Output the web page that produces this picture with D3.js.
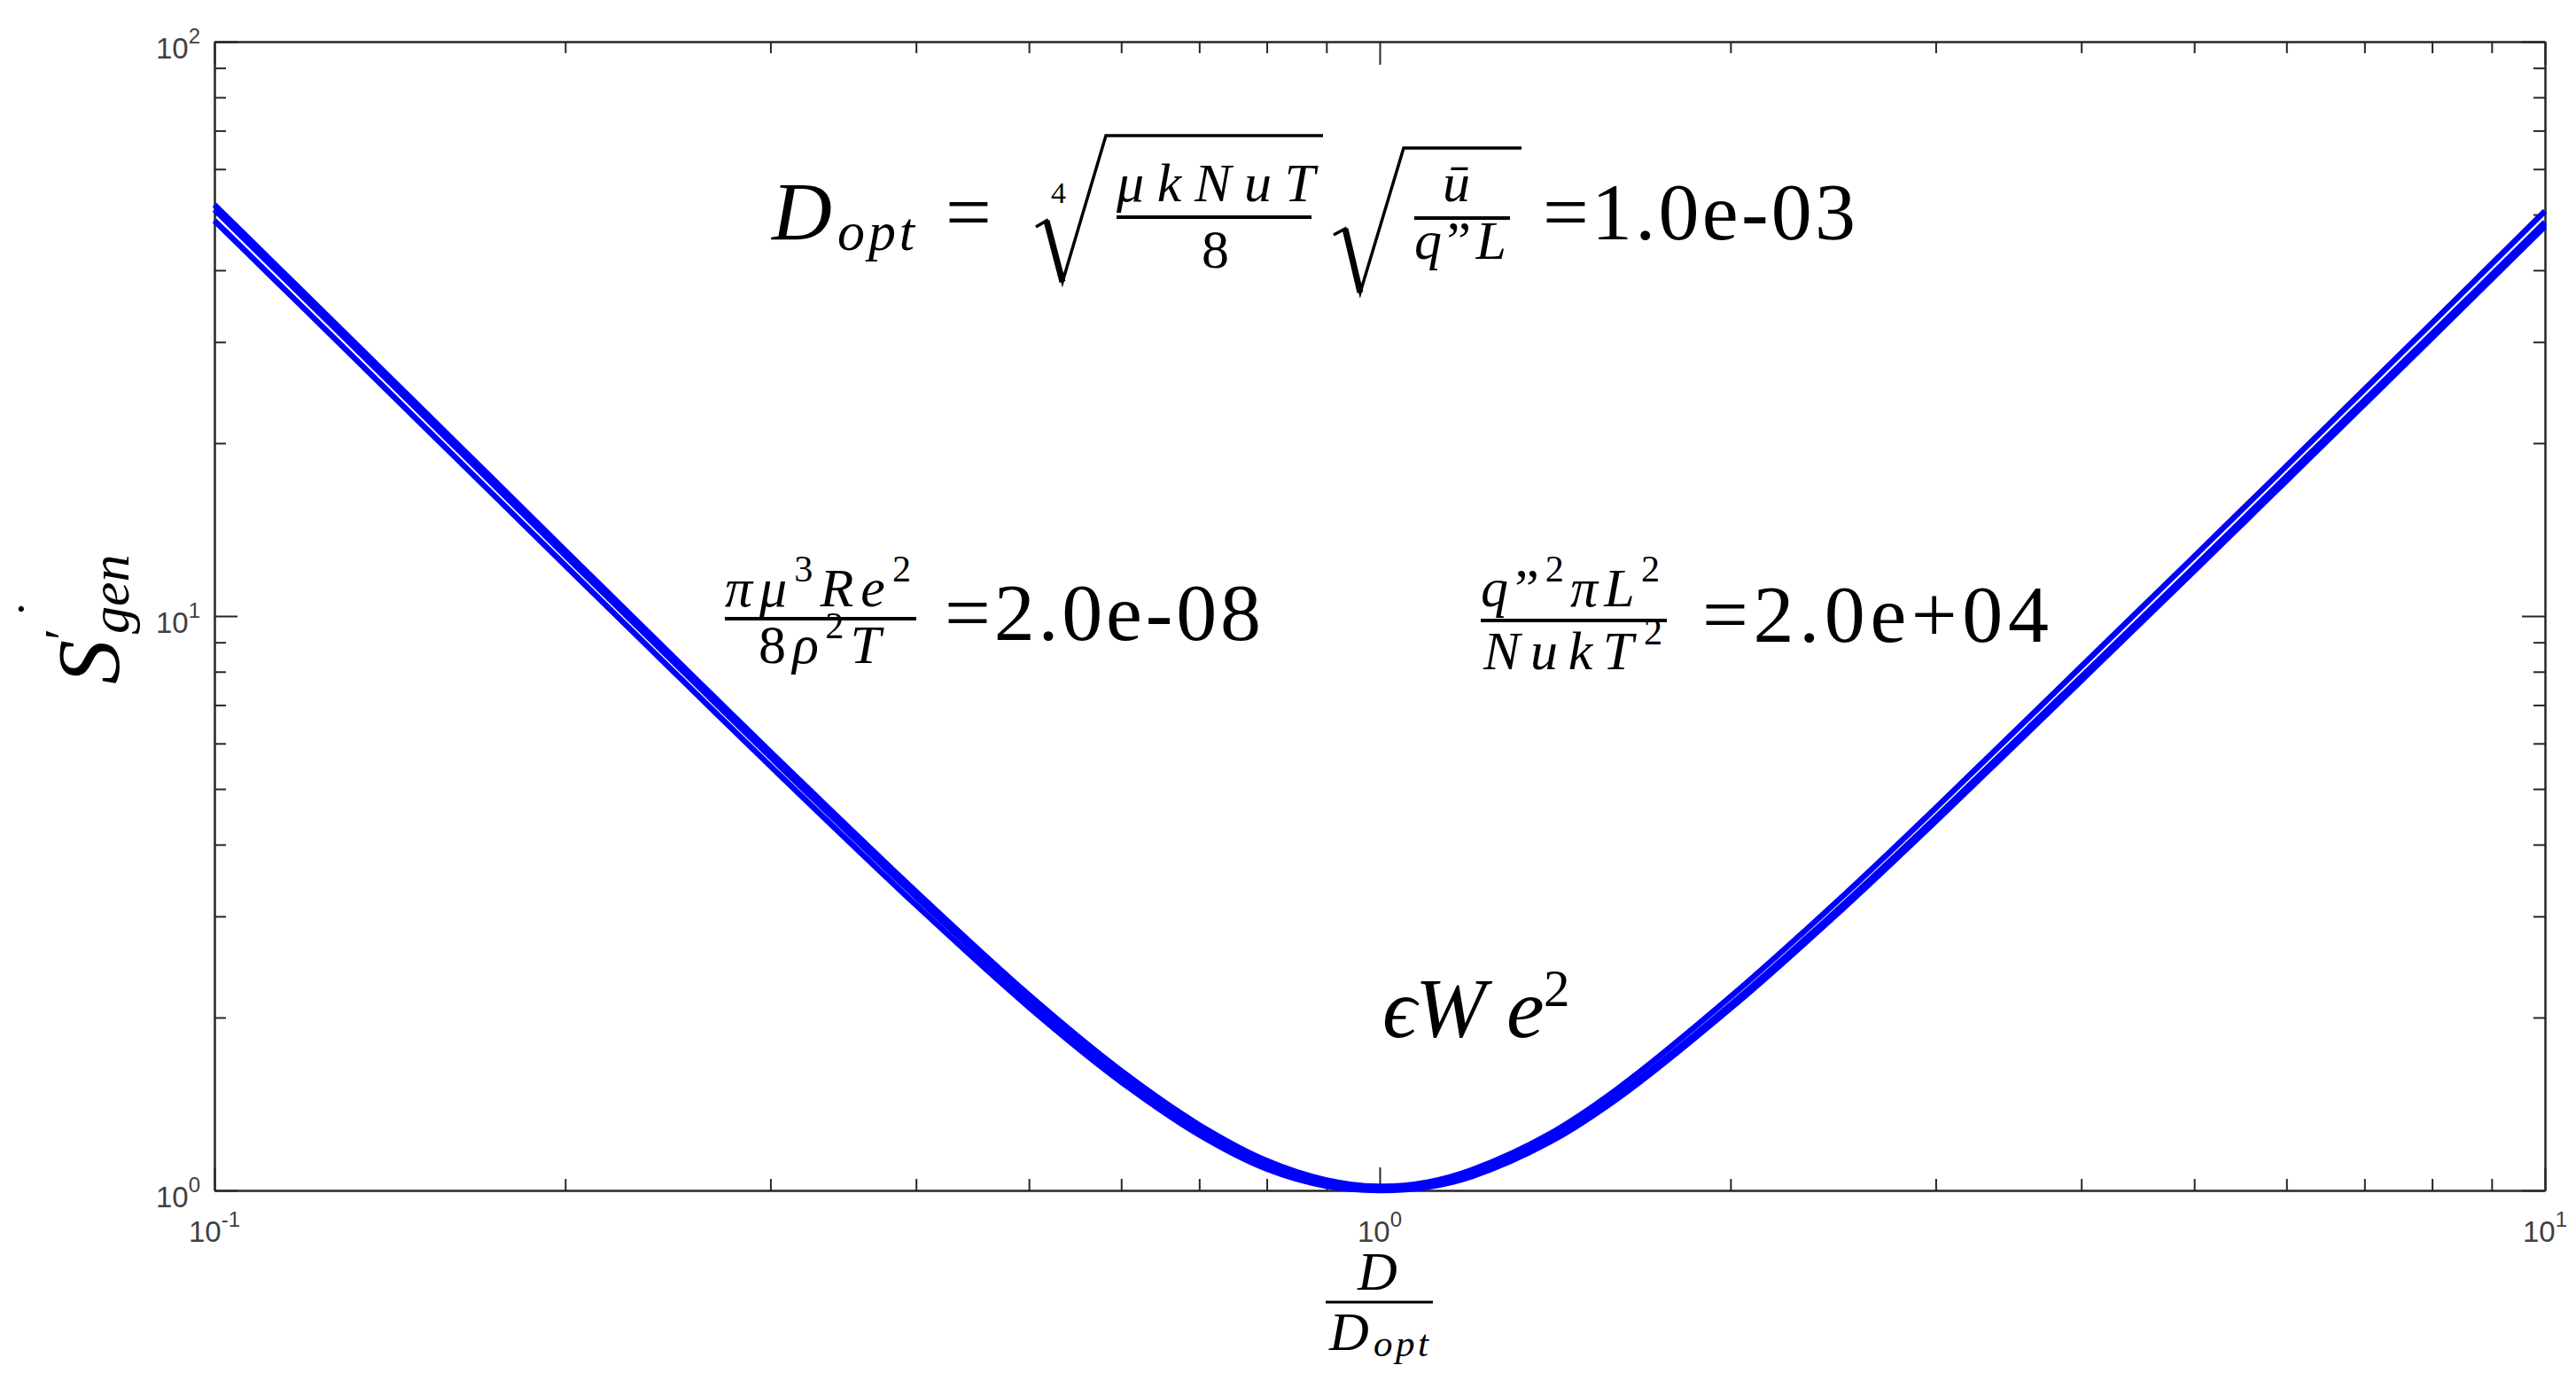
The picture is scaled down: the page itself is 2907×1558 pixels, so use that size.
<!DOCTYPE html>
<html>
<head>
<meta charset="utf-8">
<script src="https://cdn.jsdelivr.net/npm/d3@7"></script>
<style>
  body { margin: 0; background: #fff; }
  svg { display: block; }
  .axis path, .axis line { stroke: #262626; stroke-width: 2; fill: none; }
  .tick-label { font-family: "Liberation Sans", Arial, sans-serif; fill: #404040; }
  .math { font-family: "Liberation Serif", "Times New Roman", serif; fill: #000; }
</style>
</head>
<body>
<div id="chart"></div>
<script>
// D/Dopt sample positions and the three Sgen curves
const ratio = [0.1, 0.12, 0.15, 0.2, 0.25, 0.3, 0.4, 0.5, 0.6, 0.7, 0.8, 0.9, 1.0,
               1.1, 1.2, 1.4, 1.6, 2, 2.5, 3, 4, 5, 6, 8, 10];
const sgenUpper = [52.0, 36.16, 23.14, 13.01, 8.33, 5.80, 3.313, 2.189, 1.615, 1.30, 1.126, 1.042, 1.016,
                   1.034, 1.086, 1.255, 1.503, 2.173, 3.261, 4.631, 8.168, 12.70, 18.25, 32.39, 50.7];
const sgenMid = [51.0, 35.44, 22.69, 12.75, 8.17, 5.683, 3.244, 2.145, 1.582, 1.274, 1.105, 1.028, 1.008,
                 1.023, 1.069, 1.230, 1.464, 2.104, 3.147, 4.456, 7.84, 12.17, 17.49, 31.02, 48.5];
const sgenLower = [48.8, 33.95, 21.75, 12.25, 7.86, 5.48, 3.14, 2.085, 1.545, 1.25, 1.09, 1.018, 1.0,
                   1.014, 1.058, 1.215, 1.445, 2.075, 3.1, 4.39, 7.72, 11.98, 17.2, 30.5, 47.7];

// axis ticks
const xMajor = [0.1, 1, 10];
const xMinor = [0.2, 0.3, 0.4, 0.5, 0.6, 0.7, 0.8, 0.9, 2, 3, 4, 5, 6, 7, 8, 9];
const yMajor = [1, 10, 100];
const yMinor = [2, 3, 4, 5, 6, 7, 8, 9, 20, 30, 40, 50, 60, 70, 80, 90];
const xTickExp = ["-1", "0", "1"];
const yTickExp = ["0", "1", "2"];

const width = 2907, height = 1558;
const margin = {left: 242, top: 47, right: 35, bottom: 215};
const plotW = width - margin.left - margin.right;
const plotH = height - margin.top - margin.bottom;

var svg = d3.select("#chart").append("svg")
    .attr("width", width)
    .attr("height", height);

var g = svg.append("g")
    .attr("transform", "translate(" + margin.left + "," + margin.top + ")");

var x = d3.scaleLog().domain([0.1, 10]).range([0, plotW]);
var y = d3.scaleLog().domain([1, 100]).range([plotH, 0]);

//ticks pointing inward on all four sides
function drawTicks(axis, vals, size, tr) {
    var a = g.append("g")
        .attr("class", "axis")
        .attr("transform", tr)
        .call(axis.tickValues(vals).tickSizeInner(-size).tickSizeOuter(0).tickFormat(""));
    a.selectAll("text").remove();
    return a;
}
drawTicks(d3.axisBottom(x), xMinor, 13, "translate(0," + plotH + ")");
drawTicks(d3.axisBottom(x), xMajor, 26, "translate(0," + plotH + ")");
drawTicks(d3.axisTop(x), xMinor, 13, "translate(0,0)");
drawTicks(d3.axisTop(x), xMajor, 26, "translate(0,0)");
drawTicks(d3.axisLeft(y), yMinor, 13, "translate(0,0)");
drawTicks(d3.axisLeft(y), yMajor, 26, "translate(0,0)");
drawTicks(d3.axisRight(y), yMinor, 13, "translate(" + plotW + ",0)");
drawTicks(d3.axisRight(y), yMajor, 26, "translate(" + plotW + ",0)");

//tick labels 10^n
xMajor.forEach(function(v, i) {
    var t = g.append("text")
        .attr("class", "tick-label")
        .attr("x", x(v))
        .attr("y", plotH + 58)
        .attr("text-anchor", "middle")
        .style("font-size", "33px");
    t.append("tspan").text("10");
    t.append("tspan").attr("dy", -17).style("font-size", "24px").text(xTickExp[i]);
});
yMajor.forEach(function(v, i) {
    var t = g.append("text")
        .attr("class", "tick-label")
        .attr("x", -16)
        .attr("y", y(v) + 19)
        .attr("text-anchor", "end")
        .style("font-size", "33px");
    t.append("tspan").text("10");
    t.append("tspan").attr("dy", -17).style("font-size", "24px").text(yTickExp[i]);
});

//curves
var line = d3.line()
    .x(function(d) { return x(d[0]); })
    .y(function(d) { return y(d[1]); })
    .curve(d3.curveCatmullRom.alpha(0.5));

[sgenUpper, sgenMid, sgenLower].forEach(function(s) {
    g.append("path")
        .datum(ratio.map(function(r, i) { return [r, s[i]]; }))
        .attr("d", line)
        .attr("fill", "none")
        .attr("stroke", "#0000ff")
        .attr("stroke-width", 6.5)
        .attr("stroke-linejoin", "round");
});

//math text helper: parts are [string, kind] with kind i (italic), r (roman), sup
function mathText(parent, px, py, size, parts, fit) {
    var t = parent.append("text")
        .attr("class", "math")
        .attr("x", px)
        .attr("y", py)
        .style("font-size", size + "px");
    var shift = 0;
    parts.forEach(function(p) {
        var s = t.append("tspan").text(p[0]);
        var target = 0, fs = size;
        if (p[1] == "sup") { target = -0.45 * size; fs = 0.68 * size; }
        if (p[1] == "i") s.style("font-style", "italic");
        if (target != shift) { s.attr("dy", target - shift); shift = target; }
        s.style("font-size", fs + "px");
    });
    //stretch the run to the width it has in the picture
    if (fit) {
        var w = t.node().getComputedTextLength();
        var n = t.text().length;
        if (n > 1) t.style("letter-spacing", ((fit - w) / (n - 1)) + "px");
    }
    return t;
}

function hbar(x1, x2, yy, w) {
    svg.append("line").attr("x1", x1).attr("x2", x2).attr("y1", yy).attr("y2", yy)
        .attr("stroke", "#000").attr("stroke-width", w || 4);
}
function radical(pts) {
    svg.append("path").attr("d", d3.line()(pts))
        .attr("fill", "none").attr("stroke", "#000").attr("stroke-width", 3.5)
        .attr("stroke-linejoin", "miter");
    //heavier down stroke
    svg.append("path").attr("d", d3.line()([pts[1], pts[2]]))
        .attr("stroke", "#000").attr("stroke-width", 7);
}

// D_opt equation
mathText(svg, 871, 270, 94, [["D", "i"]]);
mathText(svg, 945, 282, 62, [["opt", "i"]], 87);
mathText(svg, 1067, 270, 92, [["=", "r"]]);
radical([[1169, 256], [1181, 249], [1199, 318], [1248, 153], [1493, 153]]);
mathText(svg, 1186, 229, 34, [["4", "r"]]);
mathText(svg, 1260, 227, 62, [["μkNuT", "i"]], 224);
hbar(1260, 1480, 245);
mathText(svg, 1356, 302, 62, [["8", "r"]]);
radical([[1505, 265], [1518, 258], [1535, 330], [1584, 167], [1717, 167]]);
mathText(svg, 1628, 227, 62, [["ū", "i"]]);
hbar(1596, 1704, 246);
mathText(svg, 1596, 292, 62, [["q", "i"], ["”", "r"], ["L", "i"]], 104);
mathText(svg, 1741, 270, 92, [["=1.0e-03", "r"]], 353);

// left coefficient
mathText(svg, 818, 684, 62, [["πμ", "i"], ["3", "sup"], ["Re", "i"], ["2", "sup"]], 210);
hbar(818, 1034, 698);
mathText(svg, 856, 748, 62, [["8", "r"], ["ρ", "i"], ["2", "sup"], ["T", "i"]], 138);
mathText(svg, 1066, 722, 92, [["=2.0e-08", "r"]], 357);

// right coefficient
mathText(svg, 1671, 684, 62, [["q", "i"], ["”", "r"], ["2", "sup"], ["πL", "i"], ["2", "sup"]], 202);
hbar(1671, 1881, 700);
mathText(svg, 1674, 755, 62, [["NukT", "i"], ["2", "sup"]], 202);
mathText(svg, 1921, 724, 92, [["=2.0e+04", "r"]], 391);

// epsilon We^2
mathText(svg, 1560, 1170, 96, [["ϵ", "i"]]);
mathText(svg, 1597, 1170, 96, [["W", "i"]]);
mathText(svg, 1700, 1170, 96, [["e", "i"]]);
mathText(svg, 1742, 1135, 59, [["2", "r"]]);

// x axis label
mathText(svg, 1532, 1455, 62, [["D", "i"]]);
hbar(1496, 1617, 1469, 3);
mathText(svg, 1500, 1523, 62, [["D", "i"]]);
mathText(svg, 1550, 1530, 43, [["opt", "i"]], 62);

// y axis label, rotated
var yl = svg.append("g").attr("transform", "translate(133,772) rotate(-90)");
mathText(yl, 0, 0, 100, [["S", "i"]]);
mathText(yl, 57, 12, 62, [["gen", "i"]]);
mathText(yl, 75, -73, 60, [["˙", "r"]]);
mathText(yl, 50, -42, 60, [["′", "r"]]);
</script>
</body>
</html>
